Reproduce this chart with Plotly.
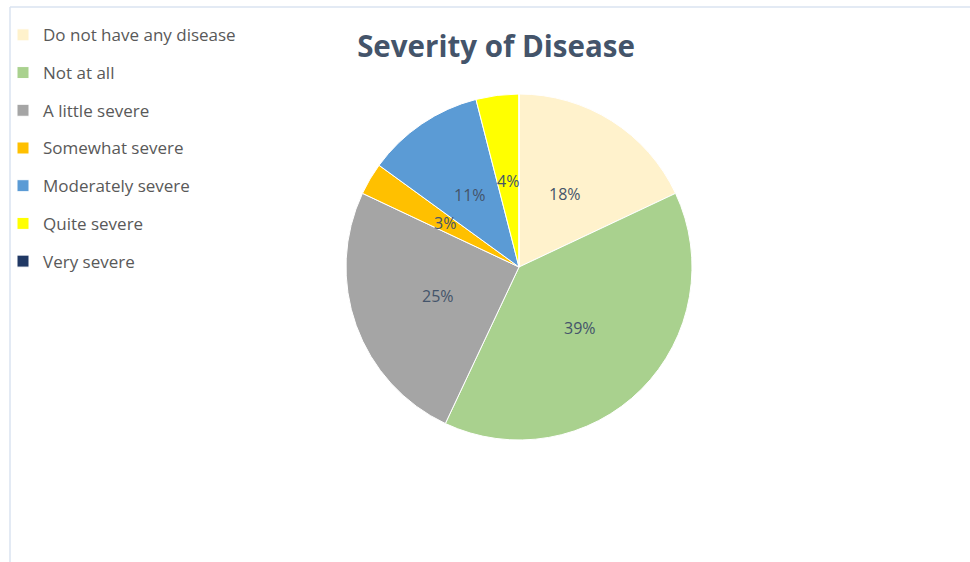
import math
import plotly.graph_objects as go

categories = ["Do not have any disease", "Not at all", "A little severe",
              "Somewhat severe", "Moderately severe", "Quite severe", "Very severe"]
values = [18, 39, 25, 3, 11, 4, 0]
colors = ["#FFF2CC", "#A9D18E", "#A5A5A5", "#FFC000", "#5B9BD5", "#FFFF00", "#203864"]
title_text = "Severity of Disease"

W, H = 970, 562
cx, cy, r = 519, 267, 173
dom_x = [(cx - r) / W, (cx + r) / W]
dom_y = [1 - (cy + r) / H, 1 - (cy - r) / H]

FONT = "Open Sans, Lato, sans-serif"
legend_labels = ['<span style="font-size:17px;baseline-shift:4px">%s</span>' % c for c in categories]

fig = go.Figure(go.Pie(
    labels=legend_labels,
    values=values,
    sort=False,
    direction="clockwise",
    rotation=0,
    marker=dict(colors=colors, line=dict(color="white", width=1)),
    textinfo="none",
    domain=dict(x=dom_x, y=dom_y),
    hoverinfo="label+percent",
))

# data labels placed at half radius along each slice's mid angle (computed from values)
total = sum(values)
annotations = []
cum = 0
for v in values:
    if v > 0:
        mid = (cum + v / 2) / total * 2 * math.pi
        annotations.append(dict(
            x=0.5 * math.sin(mid), y=0.5 * math.cos(mid), xref="x", yref="y",
            text="%d%%" % round(100 * v / total), showarrow=False,
            xanchor="center", yanchor="middle",
            font=dict(family=FONT, size=16, color="#44546A"),
        ))
    cum += v

fig.update_layout(
    width=W, height=H,
    margin=dict(l=0, r=0, t=0, b=0),
    paper_bgcolor="white",
    plot_bgcolor="rgba(0,0,0,0)",
    xaxis=dict(domain=dom_x, range=[-1, 1], visible=False, fixedrange=True),
    yaxis=dict(domain=dom_y, range=[-1, 1], visible=False, fixedrange=True),
    annotations=annotations,
    title=dict(text="<b>%s</b>" % title_text, x=496 / W, xanchor="center",
               y=1 - 47 / H, yanchor="middle",
               font=dict(family=FONT, size=29.5, color="#44546A")),
    legend=dict(x=3 / W, y=1 - 11 / H, xanchor="left", yanchor="top",
                font=dict(family=FONT, size=26.7, color="#595959"),
                bgcolor="rgba(0,0,0,0)", traceorder="normal"),
    shapes=[
        dict(type="line", xref="paper", yref="paper", x0=10 / W, x1=1, y0=1 - 7 / H, y1=1 - 7 / H,
             line=dict(color="#DAE3F0", width=1.5)),
        dict(type="line", xref="paper", yref="paper", x0=10 / W, x1=10 / W, y0=0, y1=1 - 7 / H,
             line=dict(color="#DAE3F0", width=1.5)),
    ],
)

fig.write_html("out.html")
